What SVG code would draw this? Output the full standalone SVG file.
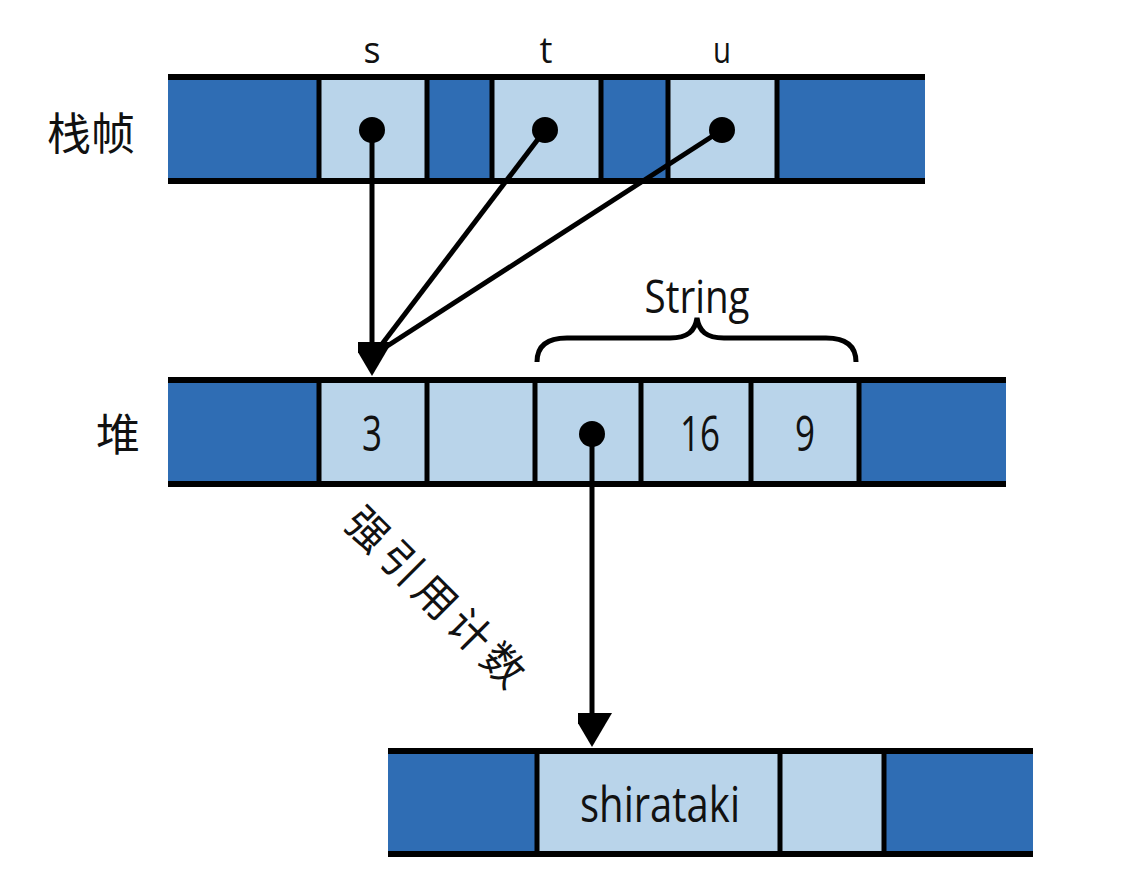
<svg xmlns="http://www.w3.org/2000/svg" width="1144" height="882" viewBox="0 0 1144 882">
<style>
.dark{fill:#2f6db4}
.light{fill:#b9d4ea}
.rail{stroke:#000;stroke-width:6;fill:none}
.div{stroke:#000;stroke-width:5}
.wire{stroke:#000;stroke-width:5;fill:none}
.dot{fill:#000}
.lbl{font-family:"Open Sans","Liberation Sans",sans-serif;fill:#111;text-anchor:middle}
.cjk{font-family:"Noto Sans CJK SC","Noto Sans",sans-serif;fill:#111;text-anchor:middle}
</style>
<defs>
<marker id="arrow" viewBox="0 0 40 34" refX="0" refY="20" markerUnits="userSpaceOnUse" markerWidth="40" markerHeight="34" orient="auto">
<path d="M0,0 L34,20 L0,40 Z" fill="#000"/>
</marker>
</defs>
<rect width="1144" height="882" fill="#fff"/>

<g id="stack-frame">
<rect class="dark" x="168" y="78" width="152" height="102"/>
<rect class="light" x="320" y="78" width="107" height="102"/>
<rect class="dark" x="427" y="78" width="65" height="102"/>
<rect class="light" x="492" y="78" width="108" height="102"/>
<rect class="dark" x="600" y="78" width="68" height="102"/>
<rect class="light" x="668" y="78" width="109" height="102"/>
<rect class="dark" x="777" y="78" width="148" height="102"/>
<line class="rail" x1="168" y1="77" x2="925" y2="77"/>
<line class="rail" x1="168" y1="181" x2="925" y2="181"/>
<line class="div" x1="319" y1="77" x2="319" y2="181"/>
<line class="div" x1="427" y1="77" x2="427" y2="181"/>
<line class="div" x1="492" y1="77" x2="492" y2="181"/>
<line class="div" x1="601" y1="77" x2="601" y2="181"/>
<line class="div" x1="668" y1="77" x2="668" y2="181"/>
<line class="div" x1="777" y1="77" x2="777" y2="181"/>
<text class="lbl" x="372" y="63" font-size="36" textLength="17" lengthAdjust="spacingAndGlyphs">s</text>
<text class="lbl" x="546" y="63" font-size="36" textLength="13" lengthAdjust="spacingAndGlyphs">t</text>
<text class="lbl" x="722" y="63" font-size="36" textLength="18" lengthAdjust="spacingAndGlyphs">u</text>
<ellipse class="dot" cx="372" cy="130" rx="13" ry="13"/>
<ellipse class="dot" cx="545" cy="130" rx="13" ry="13"/>
<ellipse class="dot" cx="722" cy="130" rx="13" ry="13"/>
</g>

<g id="heap">
<rect class="dark" x="168" y="381" width="152" height="102"/>
<rect class="light" x="320" y="381" width="107" height="102"/>
<rect class="light" x="427" y="381" width="108" height="102"/>
<rect class="light" x="535" y="381" width="106" height="102"/>
<rect class="light" x="641" y="381" width="110" height="102"/>
<rect class="light" x="751" y="381" width="108" height="102"/>
<rect class="dark" x="859" y="381" width="147" height="102"/>
<line class="rail" x1="168" y1="380" x2="1006" y2="380"/>
<line class="rail" x1="168" y1="484" x2="1006" y2="484"/>
<line class="div" x1="319" y1="380" x2="319" y2="484"/>
<line class="div" x1="427" y1="380" x2="427" y2="484"/>
<line class="div" x1="535" y1="380" x2="535" y2="484"/>
<line class="div" x1="641" y1="380" x2="641" y2="484"/>
<line class="div" x1="751" y1="380" x2="751" y2="484"/>
<line class="div" x1="859" y1="380" x2="859" y2="484"/>
<text class="lbl" x="372" y="451" font-size="50" textLength="20" lengthAdjust="spacingAndGlyphs">3</text>
<text class="lbl" x="700" y="451" font-size="50" textLength="40" lengthAdjust="spacingAndGlyphs">16</text>
<text class="lbl" x="805" y="451" font-size="50" textLength="20" lengthAdjust="spacingAndGlyphs">9</text>
<ellipse class="dot" cx="592" cy="434" rx="13" ry="13"/>
</g>

<g id="string-brace">
<path class="wire" d="M537,362 C537,346 547,338 567,338 L670,338 C688,338 695,331 697,318 C699,331 706,338 724,338 L826,338 C846,338 856,346 856,362"/>
<text class="lbl" x="697" y="313" font-size="46" textLength="105" lengthAdjust="spacingAndGlyphs">String</text>
</g>

<g id="string-buffer">
<rect class="dark" x="388" y="752" width="149" height="101"/>
<rect class="light" x="537" y="752" width="243" height="101"/>
<rect class="light" x="780" y="752" width="104" height="101"/>
<rect class="dark" x="884" y="752" width="149" height="101"/>
<line class="rail" x1="388" y1="751" x2="1033" y2="751"/>
<line class="rail" x1="388" y1="854" x2="1033" y2="854"/>
<line class="div" x1="537" y1="751" x2="537" y2="854"/>
<line class="div" x1="780" y1="751" x2="780" y2="854"/>
<line class="div" x1="884" y1="751" x2="884" y2="854"/>
<text class="lbl" x="660" y="822" font-size="50" textLength="160" lengthAdjust="spacingAndGlyphs">shirataki</text>
</g>

<g id="labels">
<text class="cjk" x="91" y="150" font-size="44">栈帧</text>
<text class="cjk" x="118" y="451" font-size="44">堆</text>
<text class="cjk" x="440" y="597" font-size="42" letter-spacing="6" dominant-baseline="central" transform="rotate(45 440 597)">强引用计数</text>
</g>

<g id="connectors">
<line class="wire" x1="372" y1="130" x2="372" y2="342" marker-end="url(#arrow)"/>
<line class="wire" x1="545" y1="130" x2="376" y2="352"/>
<line class="wire" x1="722" y1="130" x2="378" y2="352"/>
<line class="wire" x1="592" y1="434" x2="592" y2="713" marker-end="url(#arrow)"/>
</g>
</svg>
